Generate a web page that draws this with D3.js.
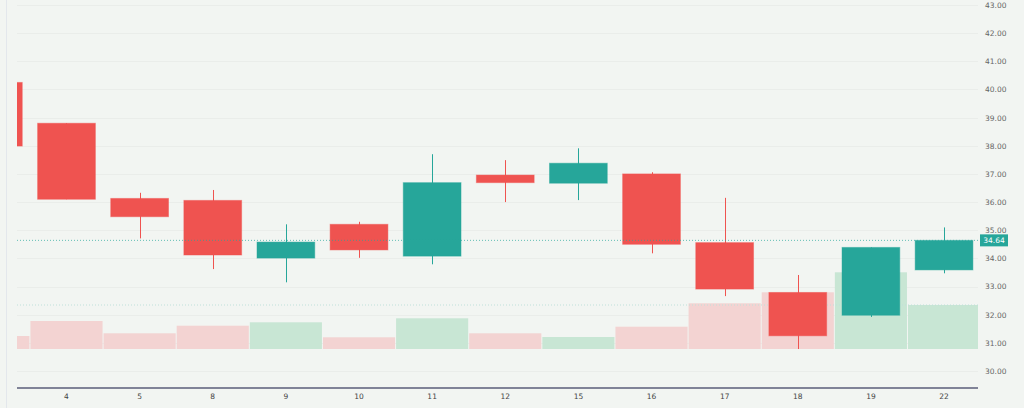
<!DOCTYPE html>
<html>
<head>
<meta charset="utf-8">
<script src="https://cdn.jsdelivr.net/npm/d3@7"></script>
<style>
  html, body { margin: 0; padding: 0; background: #f2f5f2; }
  svg { display: block; }
</style>
</head>
<body>
<div id="chart"></div>
<script>
// day labels along the time axis (first one sits off the left edge)
const days = ['3', '4', '5', '8', '9', '10', '11', '12', '15', '16', '17', '18', '19', '22'];
const dayTicks = ['4', '5', '8', '9', '10', '11', '12', '15', '16', '17', '18', '19', '22'];
const opens = [40.25, 38.80, 36.13, 36.06, 34.01, 35.21, 34.08, 36.96, 36.67, 37.00, 34.56, 32.79, 31.98, 33.59];
const closes = [37.99, 36.10, 35.48, 34.12, 34.58, 34.30, 36.69, 36.69, 37.38, 34.50, 32.91, 31.25, 34.39, 34.64];
const highs = [40.25, 38.80, 36.33, 36.43, 35.21, 35.30, 37.70, 37.49, 37.91, 37.06, 36.15, 33.41, 34.39, 35.10];
const lows = [37.99, 36.10, 34.71, 33.62, 33.15, 34.02, 33.79, 36.00, 36.07, 34.18, 32.66, 30.78, 31.92, 33.47];
const volumes = [1.30, 2.80, 1.57, 2.33, 2.67, 1.17, 3.07, 1.57, 1.20, 2.23, 4.57, 5.67, 7.67, 4.40];
const priceTicks = [30, 31, 32, 33, 34, 35, 36, 37, 38, 39, 40, 41, 42, 43];
const lastPrice = 34.64;

const width = 1024, height = 408;
const plotLeft = 17, plotRight = 978;
const upColor = '#26a69a', downColor = '#ef5350';
const upVol = '#c8e6d4', downVol = '#f3d3d2';

const svg = d3.select('#chart').append('svg')
  .attr('width', width)
  .attr('height', height);

svg.append('rect')
  .attr('width', width)
  .attr('height', height)
  .attr('fill', '#f2f5f2');

const x = d3.scaleBand()
  .domain(days)
  .range([-43.2, 980.6])
  .paddingInner(0)
  .paddingOuter(0);

const y = d3.scaleLinear()
  .domain([30, 43])
  .range([371, 5]);

const yVol = d3.scaleLinear()
  .domain([0, 10])
  .range([349, 249]);

const data = days.map((d, i) => ({
  day: d,
  open: opens[i],
  close: closes[i],
  high: highs[i],
  low: lows[i],
  volume: volumes[i],
}));

svg.append('defs').append('clipPath')
  .attr('id', 'plot-clip')
  .append('rect')
  .attr('x', plotLeft)
  .attr('y', 0)
  .attr('width', plotRight - plotLeft)
  .attr('height', 386);

// faint panel border on the left
svg.append('line')
  .attr('x1', 6.5).attr('x2', 6.5)
  .attr('y1', 0).attr('y2', height)
  .attr('stroke', '#e3e7ec')
  .attr('stroke-width', 1);

// horizontal grid lines
svg.append('g')
  .selectAll('line')
  .data(priceTicks)
  .join('line')
  .attr('x1', plotLeft)
  .attr('x2', plotRight)
  .attr('y1', d => Math.round(y(d)) + 0.5)
  .attr('y2', d => Math.round(y(d)) + 0.5)
  .attr('stroke', '#eaedea')
  .attr('stroke-width', 1);

const plot = svg.append('g').attr('clip-path', 'url(#plot-clip)');

// volume bars
plot.append('g')
  .selectAll('rect')
  .data(data)
  .join('rect')
  .attr('x', d => x(d.day) + 0.5)
  .attr('width', x.bandwidth() - 1)
  .attr('y', d => yVol(d.volume))
  .attr('height', d => yVol(0) - yVol(d.volume))
  .attr('fill', d => d.close >= d.open ? upVol : downVol);

// last volume dotted line
plot.append('line')
  .attr('x1', plotLeft)
  .attr('x2', plotRight)
  .attr('y1', yVol(volumes[volumes.length - 1]))
  .attr('y2', yVol(volumes[volumes.length - 1]))
  .attr('stroke', '#bfe0da')
  .attr('stroke-width', 1)
  .attr('stroke-dasharray', '1,2');

const bodyW = x.bandwidth() * 0.79;

// wicks
plot.append('g')
  .selectAll('line')
  .data(data)
  .join('line')
  .attr('x1', d => Math.round(x(d.day) + x.bandwidth() / 2) + 0.5)
  .attr('x2', d => Math.round(x(d.day) + x.bandwidth() / 2) + 0.5)
  .attr('y1', d => y(d.high))
  .attr('y2', d => y(d.low))
  .attr('stroke', d => d.close >= d.open ? upColor : downColor)
  .attr('stroke-width', 1);

// candle bodies
plot.append('g')
  .selectAll('rect')
  .data(data)
  .join('rect')
  .attr('x', d => x(d.day) + (x.bandwidth() - bodyW) / 2)
  .attr('width', bodyW)
  .attr('y', d => y(Math.max(d.open, d.close)))
  .attr('height', d => Math.max(1, Math.abs(y(d.open) - y(d.close))))
  .attr('fill', d => d.close >= d.open ? upColor : downColor)
  .attr('stroke', d => d.close >= d.open ? upColor : downColor)
  .attr('stroke-opacity', 0.45)
  .attr('stroke-width', 1);

// last price dotted line
plot.append('line')
  .attr('x1', plotLeft)
  .attr('x2', plotRight)
  .attr('y1', y(lastPrice))
  .attr('y2', y(lastPrice))
  .attr('stroke', upColor)
  .attr('stroke-opacity', 0.7)
  .attr('stroke-width', 1)
  .attr('stroke-dasharray', '1,2');

// right price axis
const yAxis = d3.axisRight(y)
  .tickValues(priceTicks)
  .tickFormat(d3.format('.2f'))
  .tickSize(0)
  .tickPadding(0);

const yAxisG = svg.append('g')
  .attr('transform', `translate(985,0)`)
  .call(yAxis);
yAxisG.select('.domain').remove();
yAxisG.selectAll('text')
  .attr('fill', '#666')
  .attr('font-family', 'DejaVu Sans, sans-serif')
  .attr('font-size', 7.5);

// last price label
const lbl = svg.append('g')
  .attr('transform', `translate(980,${y(lastPrice)})`);
lbl.append('rect')
  .attr('x', 0)
  .attr('y', -6)
  .attr('width', 28)
  .attr('height', 12)
  .attr('fill', upColor);
lbl.append('text')
  .attr('x', 14)
  .attr('y', 0)
  .attr('dy', '0.35em')
  .attr('text-anchor', 'middle')
  .attr('fill', '#fff')
  .attr('font-family', 'DejaVu Sans, sans-serif')
  .attr('font-size', 7.5)
  .text(d3.format('.2f')(lastPrice));

// bottom time axis
const xAxis = d3.axisBottom(x)
  .tickValues(dayTicks)
  .tickSize(0)
  .tickPadding(6);

const xAxisG = svg.append('g')
  .attr('transform', 'translate(0,388)')
  .call(xAxis);
xAxisG.select('.domain').remove();
xAxisG.selectAll('text')
  .attr('fill', '#444')
  .attr('font-family', 'DejaVu Sans, sans-serif')
  .attr('font-size', 7.5);

svg.append('line')
  .attr('x1', plotLeft)
  .attr('x2', plotRight)
  .attr('y1', 388)
  .attr('y2', 388)
  .attr('stroke', '#5a5c78')
  .attr('stroke-width', 1.3);
</script>
</body>
</html>
